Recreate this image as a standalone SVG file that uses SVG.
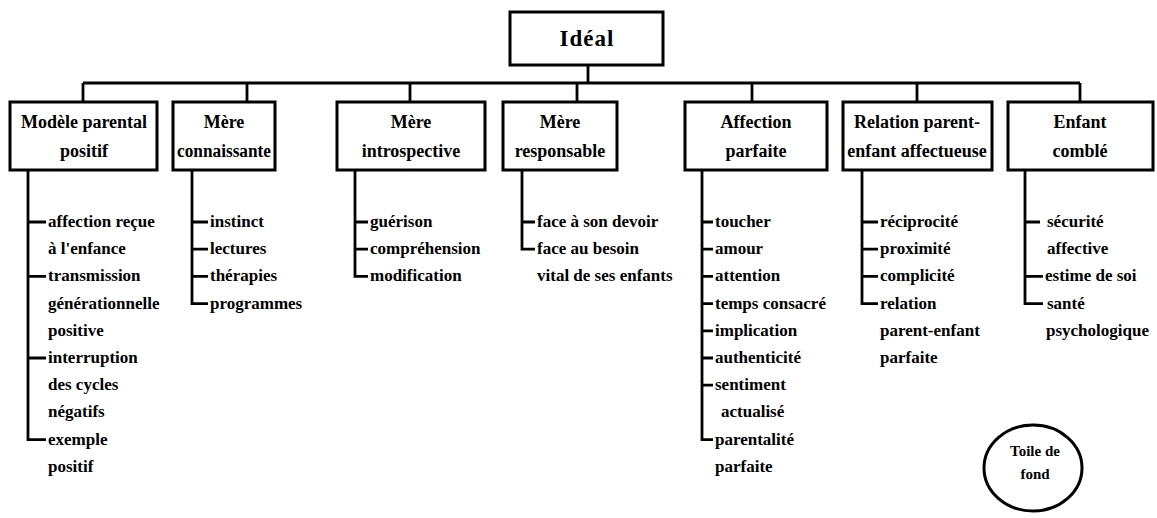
<svg xmlns="http://www.w3.org/2000/svg" width="1157" height="518" viewBox="0 0 1157 518">
<style>
.box{fill:#fff;stroke:#000;stroke-width:3}
.bt{font-family:"Liberation Serif",serif;font-weight:bold;font-size:18px;text-anchor:middle;fill:#000}
.lt{font-family:"Liberation Serif",serif;font-weight:bold;font-size:17px;fill:#000}
.ln{fill:none;stroke:#000;stroke-width:2.8}
</style>
<rect width="1157" height="518" fill="#fff"/>
<g id="connectors" class="ln">
<path d="M588 65V83M83 83H1080M83 83V102M247 83V102M410 83V102M577 83V102M752 83V102M917 83V102M1080 83V102"/>
<path d="M28 170V439.6H46M28 222H46M28 276.4H46M28 358H46"/>
<path d="M192 170V303.6H208M192 222H208M192 249.2H208M192 276.4H208"/>
<path d="M355 170V276.4H368M355 222H368M355 249.2H368"/>
<path d="M522 170V249.2H535M522 222H535"/>
<path d="M702 170V439.6H713M702 222H713M702 249.2H713M702 276.4H713M702 303.6H713M702 330.8H713M702 358H713M702 385.2H713"/>
<path d="M862 170V303.6H878M862 222H878M862 249.2H878M862 276.4H878"/>
<path d="M1025 170V303.6H1043M1025 222H1040M1025 276.4H1043"/>
</g>
<g id="ideal">
<rect class="box" x="510" y="12" width="153" height="53"/>
<text class="bt" x="587" y="46" style="font-size:23px;letter-spacing:1px">Idéal</text>
</g>
<g id="n1">
<rect class="box" x="10" y="102" width="147" height="68"/>
<text class="bt" x="84" y="128">Modèle parental</text>
<text class="bt" x="84" y="157">positif</text>
<text class="lt" x="48" y="227">affection reçue</text>
<text class="lt" x="48" y="254.2">à l'enfance</text>
<text class="lt" x="48" y="281.4">transmission</text>
<text class="lt" x="48" y="308.6">générationnelle</text>
<text class="lt" x="48" y="335.8">positive</text>
<text class="lt" x="48" y="363">interruption</text>
<text class="lt" x="48" y="390.2">des cycles</text>
<text class="lt" x="48" y="417.4">négatifs</text>
<text class="lt" x="48" y="444.6">exemple</text>
<text class="lt" x="48" y="471.8">positif</text>
</g>
<g id="n2">
<rect class="box" x="173" y="102" width="102" height="68"/>
<text class="bt" x="224" y="128">Mère</text>
<text class="bt" x="224" y="157" textLength="94" lengthAdjust="spacingAndGlyphs">connaissante</text>
<text class="lt" x="210" y="227">instinct</text>
<text class="lt" x="210" y="254.2">lectures</text>
<text class="lt" x="210" y="281.4">thérapies</text>
<text class="lt" x="210" y="308.6">programmes</text>
</g>
<g id="n3">
<rect class="box" x="337" y="102" width="148" height="68"/>
<text class="bt" x="411" y="128">Mère</text>
<text class="bt" x="411" y="157">introspective</text>
<text class="lt" x="370" y="227">guérison</text>
<text class="lt" x="370" y="254.2">compréhension</text>
<text class="lt" x="370" y="281.4">modification</text>
</g>
<g id="n4">
<rect class="box" x="503" y="102" width="114" height="68"/>
<text class="bt" x="560" y="128">Mère</text>
<text class="bt" x="560" y="157">responsable</text>
<text class="lt" x="537" y="227">face à son devoir</text>
<text class="lt" x="537" y="254.2">face au besoin</text>
<text class="lt" x="537" y="281.4">vital de ses enfants</text>
</g>
<g id="n5">
<rect class="box" x="685" y="102" width="142" height="68"/>
<text class="bt" x="756" y="128">Affection</text>
<text class="bt" x="756" y="157">parfaite</text>
<text class="lt" x="715" y="227">toucher</text>
<text class="lt" x="715" y="254.2">amour</text>
<text class="lt" x="715" y="281.4">attention</text>
<text class="lt" x="715" y="308.6">temps consacré</text>
<text class="lt" x="715" y="335.8">implication</text>
<text class="lt" x="715" y="363">authenticité</text>
<text class="lt" x="715" y="390.2">sentiment</text>
<text class="lt" x="721" y="417.4">actualisé</text>
<text class="lt" x="715" y="444.6">parentalité</text>
<text class="lt" x="715" y="471.8">parfaite</text>
</g>
<g id="n6">
<rect class="box" x="843" y="102" width="149" height="68"/>
<text class="bt" x="917" y="128">Relation parent-</text>
<text class="bt" x="917" y="157">enfant affectueuse</text>
<text class="lt" x="880" y="227">réciprocité</text>
<text class="lt" x="880" y="254.2">proximité</text>
<text class="lt" x="880" y="281.4">complicité</text>
<text class="lt" x="880" y="308.6">relation</text>
<text class="lt" x="880" y="335.8">parent-enfant</text>
<text class="lt" x="880" y="363">parfaite</text>
</g>
<g id="n7">
<rect class="box" x="1008" y="102" width="145" height="68"/>
<text class="bt" x="1080" y="128">Enfant</text>
<text class="bt" x="1080" y="157">comblé</text>
<text class="lt" x="1047" y="227">sécurité</text>
<text class="lt" x="1047" y="254.2">affective</text>
<text class="lt" x="1045" y="281.4">estime de soi</text>
<text class="lt" x="1047" y="308.6">santé</text>
<text class="lt" x="1046" y="335.8">psychologique</text>
</g>
<g id="toile">
<ellipse cx="1033" cy="468" rx="49" ry="43" fill="#fff" stroke="#000" stroke-width="3"/>
<text class="bt" x="1035" y="456" style="font-size:15px">Toile de</text>
<text class="bt" x="1035" y="479" style="font-size:15px">fond</text>
</g>
</svg>
